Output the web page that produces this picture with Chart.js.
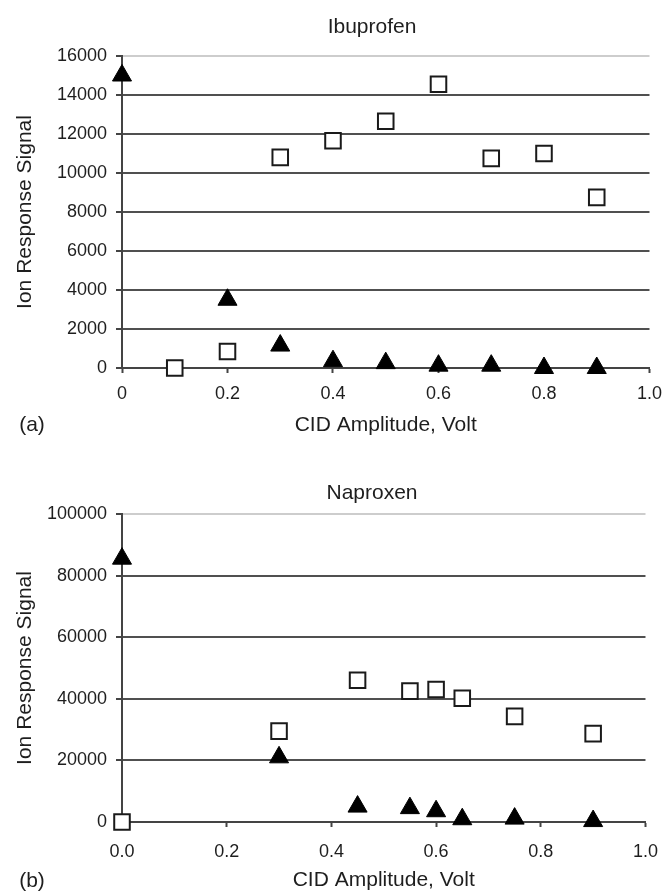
<!DOCTYPE html>
<html>
<head>
<meta charset="utf-8">
<script src="https://cdn.jsdelivr.net/npm/chart.js@4.4.1/dist/chart.umd.min.js"></script>
<style>
html, body { margin: 0; padding: 0; background: #fff; }
#wrapA { position: absolute; left: 0; top: 0; width: 672px; height: 440px; }
#wrapB { position: absolute; left: 0; top: 440px; width: 672px; height: 453px; }
canvas { display: block; }
</style>
</head>
<body>
<div id="wrapA"><canvas id="chartA" width="672" height="440"></canvas></div>
<div id="wrapB"><canvas id="chartB" width="672" height="453"></canvas></div>
<script>
// ---- Data: panel (a) Ibuprofen ----
const ibuTitle = 'Ibuprofen';
const ibuSquareX = [0.1, 0.2, 0.3, 0.4, 0.5, 0.6, 0.7, 0.8, 0.9];
const ibuSquareY = [0, 850, 10800, 11650, 12650, 14550, 10750, 11000, 8750];
const ibuTriangleX = [0, 0.2, 0.3, 0.4, 0.5, 0.6, 0.7, 0.8, 0.9];
const ibuTriangleY = [15000, 3500, 1150, 350, 250, 120, 120, 0, 0];
const ibuXTickLabels = ['0', '0.2', '0.4', '0.6', '0.8', '1.0'];
const ibuYTickLabels = ['0', '2000', '4000', '6000', '8000', '10000', '12000', '14000', '16000'];

// ---- Data: panel (b) Naproxen ----
const napTitle = 'Naproxen';
const napSquareX = [0, 0.3, 0.45, 0.55, 0.6, 0.65, 0.75, 0.9];
const napSquareY = [0, 29500, 46000, 42500, 43000, 40200, 34300, 28700];
const napTriangleX = [0, 0.3, 0.45, 0.55, 0.6, 0.65, 0.75, 0.9];
const napTriangleY = [85500, 21000, 5000, 4500, 3500, 900, 1100, 300];
const napXTickLabels = ['0.0', '0.2', '0.4', '0.6', '0.8', '1.0'];
const napYTickLabels = ['0', '20000', '40000', '60000', '80000', '100000'];

const xAxisTitle = 'CID Amplitude, Volt';
const yAxisTitle = 'Ion Response Signal';

const FONT = "'Liberation Sans', Arial, Helvetica, sans-serif";
const TEXT = '#1e1e1e';

function toPoints(xs, ys) { return xs.map((x, i) => ({ x: x, y: ys[i] })); }

function panelLabelPlugin(text, x, y) {
  return {
    id: 'panelLabel',
    afterDraw(chart) {
      const ctx = chart.ctx;
      ctx.save();
      ctx.font = '21px ' + FONT;
      ctx.fillStyle = TEXT;
      ctx.textAlign = 'center';
      ctx.textBaseline = 'middle';
      ctx.fillText(text, x, y);
      ctx.restore();
    }
  };
}

// The title box is offset (layout padding left), the y axis box is then
// stretched back to the canvas edge so its labels and title have room.
const stretchYAxis = {
  id: 'stretchYAxis',
  afterLayout(chart) {
    const y = chart.scales.y;
    y.left = 0;
    y.width = y.right;
  }
};

function makeChart(id, o) {
  return new Chart(document.getElementById(id), {
    type: 'scatter',
    data: {
      datasets: [
        {
          label: 'squares',
          data: toPoints(o.sqX, o.sqY),
          pointStyle: 'rect',
          pointRadius: 11,
          backgroundColor: '#ffffff',
          borderColor: '#1a1a1a',
          borderWidth: 2,
          clip: false
        },
        {
          label: 'triangles',
          data: toPoints(o.trX, o.trY),
          pointStyle: 'triangle',
          pointRadius: 11,
          backgroundColor: '#000000',
          borderColor: '#000000',
          borderWidth: 1,
          clip: false
        }
      ]
    },
    options: {
      responsive: false,
      animation: false,
      events: [],
      layout: { padding: { left: 86, right: 14, top: 0, bottom: o.layoutBottom } },
      plugins: {
        legend: { display: false },
        tooltip: { enabled: false },
        title: {
          display: true,
          text: o.title,
          color: TEXT,
          font: { family: FONT, size: 21, weight: 'normal' },
          padding: { top: o.titleTop, bottom: o.titleBottom }
        }
      },
      scales: {
        x: {
          type: 'linear',
          min: 0,
          max: 1,
          ticks: {
            stepSize: 0.2,
            autoSkip: false,
            maxRotation: 0,
            color: TEXT,
            padding: o.xTickPad,
            font: { family: FONT, size: 18 },
            callback: (v, i) => o.xLabels[i]
          },
          grid: { drawOnChartArea: false, drawTicks: true, tickLength: 5, tickColor: '#444', tickWidth: 2 },
          border: { display: true, color: '#444', width: 2 },
          title: {
            display: true,
            text: xAxisTitle,
            color: TEXT,
            font: { family: FONT, size: 21 },
            padding: { top: 0, bottom: 0 }
          },
          afterFit: s => { s.height = o.xAxisHeight; }
        },
        y: {
          type: 'linear',
          min: 0,
          max: o.yMax,
          ticks: {
            stepSize: o.yStep,
            color: TEXT,
            padding: 9,
            font: { family: FONT, size: 18 },
            callback: (v, i) => o.yLabels[i]
          },
          grid: {
            color: c => (c.tick && c.tick.value === o.yMax) ? '#cdcdcd' : '#505050',
            lineWidth: 2,
            drawTicks: true,
            tickLength: 6,
            tickColor: '#444',
            tickWidth: 2
          },
          border: { display: true, color: '#444', width: 2 },
          title: {
            display: true,
            text: yAxisTitle,
            color: TEXT,
            font: { family: FONT, size: 21 },
            padding: { top: 12.4, bottom: 0 }
          },
          afterFit: s => { s.width = 36; }
        }
      }
    },
    plugins: [stretchYAxis, panelLabelPlugin(o.panel, 32, o.panelY)]
  });
}

makeChart('chartA', {
  title: ibuTitle,
  sqX: ibuSquareX, sqY: ibuSquareY, trX: ibuTriangleX, trY: ibuTriangleY,
  xLabels: ibuXTickLabels, yLabels: ibuYTickLabels,
  yMax: 16000, yStep: 2000,
  layoutBottom: 2, titleTop: 14.4, titleBottom: 16.4,
  xAxisHeight: 70, xTickPad: 10,
  panel: '(a)', panelY: 425
});

makeChart('chartB', {
  title: napTitle,
  sqX: napSquareX, sqY: napSquareY, trX: napTriangleX, trY: napTriangleY,
  xLabels: napXTickLabels, yLabels: napYTickLabels,
  yMax: 100000, yStep: 20000,
  layoutBottom: 0, titleTop: 40.4, titleBottom: 8.4,
  xAxisHeight: 71, xTickPad: 14,
  panel: '(b)', panelY: 441
});
</script>
</body>
</html>
